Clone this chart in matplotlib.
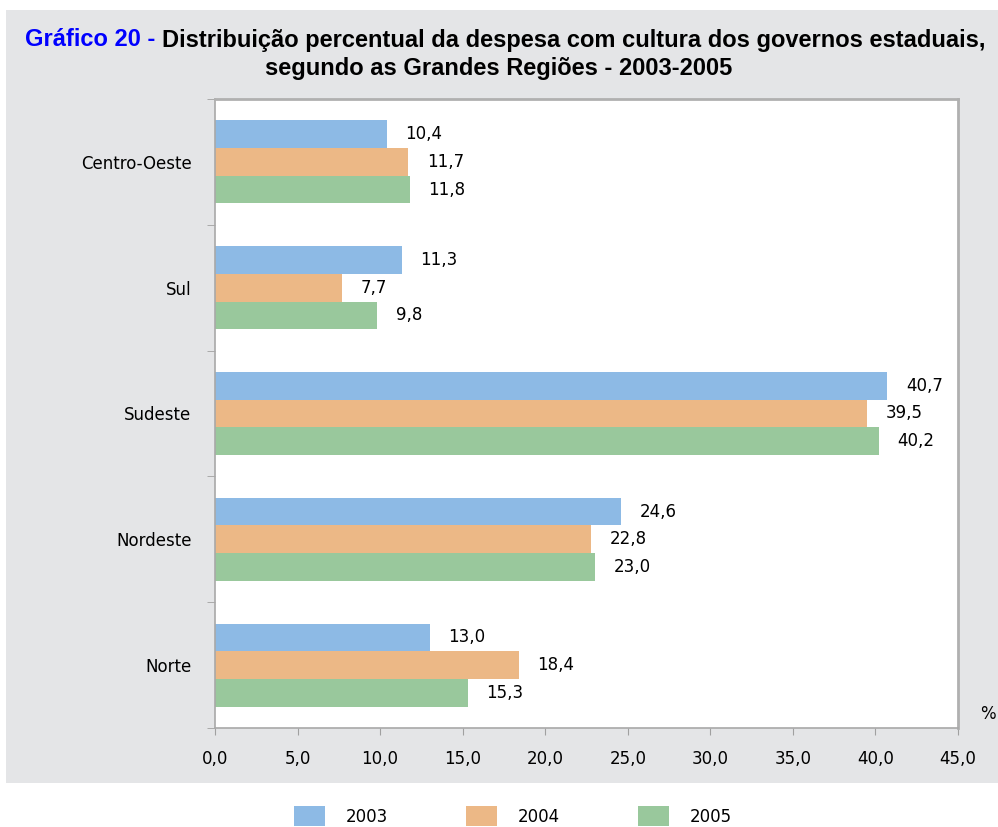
import numpy as np
import matplotlib.pyplot as plt
from matplotlib.patches import Rectangle

plt.rcParams['font.family'] = ['DejaVu Sans']

regions = ["Norte", "Nordeste", "Sudeste", "Sul", "Centro-Oeste"]
years = ["2003", "2004", "2005"]
v2003 = [13.0, 24.6, 40.7, 11.3, 10.4]
v2004 = [18.4, 22.8, 39.5, 7.7, 11.7]
v2005 = [15.3, 23.0, 40.2, 9.8, 11.8]
xticks = [0, 5, 10, 15, 20, 25, 30, 35, 40, 45]

colors = ["#8DBAE5", "#ECB886", "#99C89C"]

fig = plt.figure(figsize=(9.98, 8.27), dpi=100)
bg = Rectangle((6 / 998, 44 / 827), 1 - 6 / 998, 773 / 827,
               transform=fig.transFigure, facecolor="#E4E5E7",
               edgecolor="none", zorder=-10)
fig.add_artist(bg)

ax = fig.add_axes([215 / 998, 99 / 827, 743 / 998, 629 / 827])
ax.set_facecolor("white")

y = np.arange(len(regions))
h = 0.22
series = [v2003, v2004, v2005]
offs = [h, 0, -h]
for vals, off, c, yr in zip(series, offs, colors, years):
    bars = ax.barh(y + off, vals, height=h, color=c, label=yr)
    for b, v in zip(bars, vals):
        ax.annotate(f"{v:.1f}".replace(".", ","),
                    (b.get_width(), b.get_y() + b.get_height() / 2),
                    xytext=(13.5, 0), textcoords="offset points",
                    va="center", ha="left", fontsize=12)

ax.set_xlim(0, 45)
ax.set_ylim(-0.5, 4.5)
ax.set_xticks(xticks)
ax.set_xticklabels([f"{t:.1f}".replace(".", ",") for t in xticks], fontsize=12)
ax.set_yticks(y)
ax.set_yticklabels(regions, fontsize=12)
ax.set_yticks(np.arange(-0.5, 5, 1), minor=True)
ax.tick_params(axis="y", which="major", length=0, pad=17)
ax.tick_params(axis="y", which="minor", length=6, color="#A0A0A0")
ax.tick_params(axis="x", length=5, color="#A0A0A0", pad=11)

for s in ["left", "bottom"]:
    ax.spines[s].set_color("#A8A8A8")
    ax.spines[s].set_linewidth(1.2)
for s in ["top", "right"]:
    ax.spines[s].set_color("#B0B0B0")
    ax.spines[s].set_linewidth(2)

fig.text(988 / 998, 1 - 714 / 827, "%", fontsize=12, ha="center", va="center")

# title with blue prefix
tf = ['Liberation Sans', 'DejaVu Sans']
t1 = fig.text(0.5, 1 - 40 / 827, "Gráfico 20 - ", fontsize=17, fontweight="bold",
              color="#0000FF", ha="left", va="center", family=tf)
t2 = fig.text(0.5, 1 - 40 / 827,
              "Distribuição percentual da despesa com cultura dos governos estaduais,",
              fontsize=17, fontweight="bold", ha="left", va="center", family=tf)
fig.canvas.draw()
r = fig.canvas.get_renderer()
w1 = t1.get_window_extent(r).width
w2 = t2.get_window_extent(r).width
x0 = (998 - w1 - w2) / 2 + 6
t1.set_x(x0 / 998)
t2.set_x((x0 + w1) / 998)
fig.text(0.5, 1 - 68 / 827, "segundo as Grandes Regiões - 2003-2005",
         fontsize=17, fontweight="bold", ha="center", va="center", family=tf)

handles, labels = ax.get_legend_handles_labels()
fig.legend(handles, labels, loc="center", bbox_to_anchor=(513 / 998, 1 - 816 / 827),
           ncol=3, frameon=False, fontsize=12, handlelength=1.85, handleheight=1.45,
           columnspacing=4.7, handletextpad=1.25, borderpad=0)

fig.savefig("out.png", dpi=100)
